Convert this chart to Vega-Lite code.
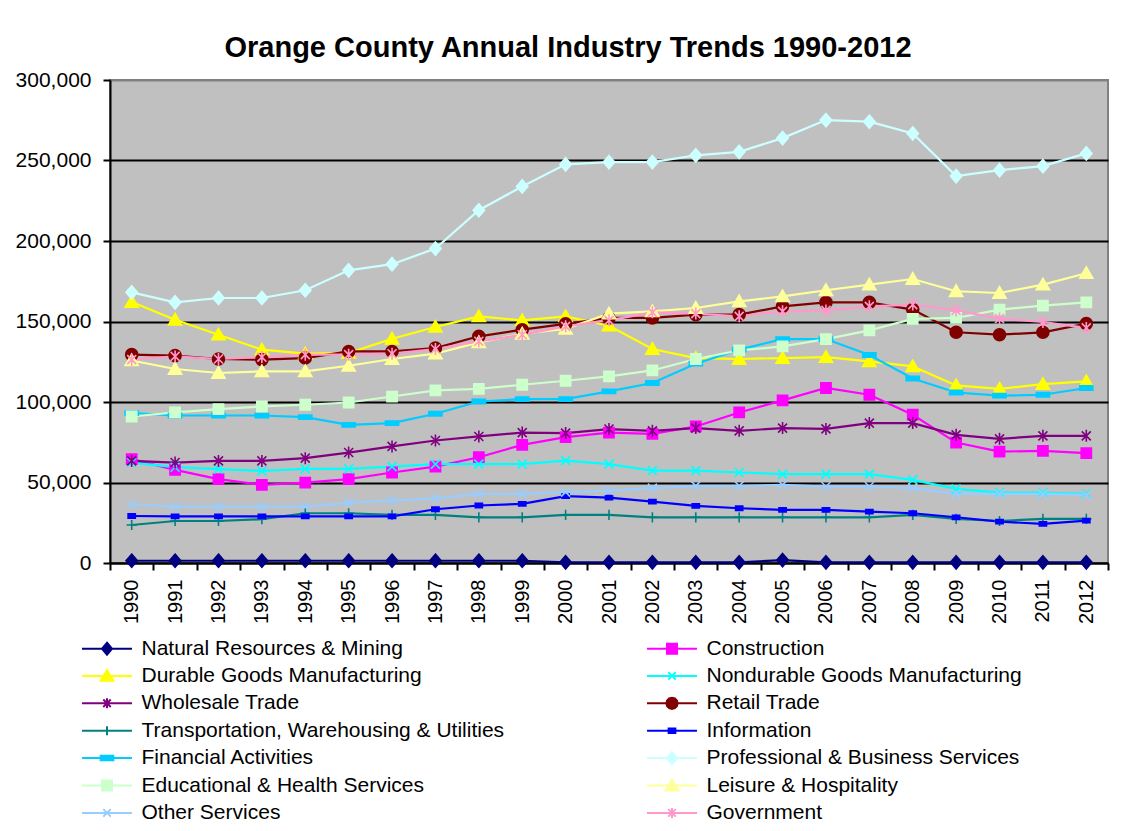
{
  "$schema": "https://vega.github.io/schema/vega-lite/v6.json",
  "width": 998,
  "height": 483,
  "autosize": {"type": "none"},
  "padding": {"left": 110, "top": 80, "right": 23, "bottom": 268},
  "background": "white",
  "title": {"text": "Orange County Annual Industry Trends 1990-2012", "font": "Liberation Sans", "fontSize": 29, "fontWeight": "bold", "color": "black", "anchor": "middle", "dx": -41, "offset": 6},
  "data": {"values": [
    {"year": "1990", "Natural Resources & Mining": 1400, "Construction": 64500, "Durable Goods Manufacturing": 162100, "Nondurable Goods Manufacturing": 62400, "Wholesale Trade": 63400, "Retail Trade": 129400, "Transportation, Warehousing & Utilities": 23600, "Information": 29200, "Financial Activities": 93100, "Professional & Business Services": 168100, "Educational & Health Services": 91000, "Leisure & Hospitality": 125800, "Other Services": 36500, "Government": 126300},
    {"year": "1991", "Natural Resources & Mining": 1400, "Construction": 57800, "Durable Goods Manufacturing": 151100, "Nondurable Goods Manufacturing": 59500, "Wholesale Trade": 62400, "Retail Trade": 128800, "Transportation, Warehousing & Utilities": 26100, "Information": 29000, "Financial Activities": 91600, "Professional & Business Services": 161900, "Educational & Health Services": 93500, "Leisure & Hospitality": 120500, "Other Services": 35000, "Government": 128300},
    {"year": "1992", "Natural Resources & Mining": 1400, "Construction": 52100, "Durable Goods Manufacturing": 141800, "Nondurable Goods Manufacturing": 58300, "Wholesale Trade": 63400, "Retail Trade": 126700, "Transportation, Warehousing & Utilities": 26100, "Information": 29000, "Financial Activities": 91600, "Professional & Business Services": 164600, "Educational & Health Services": 95600, "Leisure & Hospitality": 118000, "Other Services": 35000, "Government": 126700},
    {"year": "1993", "Natural Resources & Mining": 1400, "Construction": 48500, "Durable Goods Manufacturing": 132500, "Nondurable Goods Manufacturing": 57200, "Wholesale Trade": 63400, "Retail Trade": 126300, "Transportation, Warehousing & Utilities": 27200, "Information": 29000, "Financial Activities": 91600, "Professional & Business Services": 164600, "Educational & Health Services": 97200, "Leisure & Hospitality": 119000, "Other Services": 35000, "Government": 127900},
    {"year": "1994", "Natural Resources & Mining": 1400, "Construction": 49900, "Durable Goods Manufacturing": 130000, "Nondurable Goods Manufacturing": 58500, "Wholesale Trade": 65100, "Retail Trade": 127300, "Transportation, Warehousing & Utilities": 30900, "Information": 29000, "Financial Activities": 90600, "Professional & Business Services": 169400, "Educational & Health Services": 98300, "Leisure & Hospitality": 119000, "Other Services": 35000, "Government": 129400},
    {"year": "1995", "Natural Resources & Mining": 1400, "Construction": 52100, "Durable Goods Manufacturing": 130400, "Nondurable Goods Manufacturing": 58500, "Wholesale Trade": 68600, "Retail Trade": 131400, "Transportation, Warehousing & Utilities": 30900, "Information": 29000, "Financial Activities": 85800, "Professional & Business Services": 181800, "Educational & Health Services": 99700, "Leisure & Hospitality": 122500, "Other Services": 37500, "Government": 129400},
    {"year": "1996", "Natural Resources & Mining": 1400, "Construction": 56200, "Durable Goods Manufacturing": 139300, "Nondurable Goods Manufacturing": 59900, "Wholesale Trade": 72400, "Retail Trade": 131400, "Transportation, Warehousing & Utilities": 29900, "Information": 29000, "Financial Activities": 86900, "Professional & Business Services": 185600, "Educational & Health Services": 103400, "Leisure & Hospitality": 126700, "Other Services": 38800, "Government": 130000},
    {"year": "1997", "Natural Resources & Mining": 1400, "Construction": 59900, "Durable Goods Manufacturing": 146600, "Nondurable Goods Manufacturing": 61400, "Wholesale Trade": 76100, "Retail Trade": 133500, "Transportation, Warehousing & Utilities": 29900, "Information": 33400, "Financial Activities": 92700, "Professional & Business Services": 195300, "Educational & Health Services": 107200, "Leisure & Hospitality": 130000, "Other Services": 40200, "Government": 132900},
    {"year": "1998", "Natural Resources & Mining": 1400, "Construction": 65700, "Durable Goods Manufacturing": 153200, "Nondurable Goods Manufacturing": 61400, "Wholesale Trade": 78600, "Retail Trade": 140800, "Transportation, Warehousing & Utilities": 28400, "Information": 35700, "Financial Activities": 100300, "Professional & Business Services": 219100, "Educational & Health Services": 108200, "Leisure & Hospitality": 137000, "Other Services": 42900, "Government": 137700},
    {"year": "1999", "Natural Resources & Mining": 1400, "Construction": 73400, "Durable Goods Manufacturing": 150700, "Nondurable Goods Manufacturing": 61400, "Wholesale Trade": 81000, "Retail Trade": 144900, "Transportation, Warehousing & Utilities": 28400, "Information": 36700, "Financial Activities": 101800, "Professional & Business Services": 233900, "Educational & Health Services": 110700, "Leisure & Hospitality": 142400, "Other Services": 42900, "Government": 141800},
    {"year": "2000", "Natural Resources & Mining": 400, "Construction": 78200, "Durable Goods Manufacturing": 153200, "Nondurable Goods Manufacturing": 63600, "Wholesale Trade": 80700, "Retail Trade": 148500, "Transportation, Warehousing & Utilities": 29900, "Information": 41500, "Financial Activities": 101800, "Professional & Business Services": 247600, "Educational & Health Services": 113200, "Leisure & Hospitality": 145400, "Other Services": 44000, "Government": 147000},
    {"year": "2001", "Natural Resources & Mining": 400, "Construction": 81000, "Durable Goods Manufacturing": 147400, "Nondurable Goods Manufacturing": 61400, "Wholesale Trade": 83200, "Retail Trade": 152200, "Transportation, Warehousing & Utilities": 29900, "Information": 40600, "Financial Activities": 106600, "Professional & Business Services": 249000, "Educational & Health Services": 115900, "Leisure & Hospitality": 154900, "Other Services": 45000, "Government": 150700},
    {"year": "2002", "Natural Resources & Mining": 400, "Construction": 80200, "Durable Goods Manufacturing": 132900, "Nondurable Goods Manufacturing": 57400, "Wholesale Trade": 82100, "Retail Trade": 152200, "Transportation, Warehousing & Utilities": 28400, "Information": 38100, "Financial Activities": 111800, "Professional & Business Services": 249000, "Educational & Health Services": 119600, "Leisure & Hospitality": 156300, "Other Services": 46500, "Government": 155700},
    {"year": "2003", "Natural Resources & Mining": 400, "Construction": 84800, "Durable Goods Manufacturing": 127300, "Nondurable Goods Manufacturing": 57400, "Wholesale Trade": 83800, "Retail Trade": 154300, "Transportation, Warehousing & Utilities": 28400, "Information": 35500, "Financial Activities": 123800, "Professional & Business Services": 253200, "Educational & Health Services": 126700, "Leisure & Hospitality": 158400, "Other Services": 47900, "Government": 154900},
    {"year": "2004", "Natural Resources & Mining": 400, "Construction": 93500, "Durable Goods Manufacturing": 126700, "Nondurable Goods Manufacturing": 56200, "Wholesale Trade": 82100, "Retail Trade": 154300, "Transportation, Warehousing & Utilities": 28400, "Information": 34000, "Financial Activities": 132500, "Professional & Business Services": 255400, "Educational & Health Services": 132100, "Leisure & Hospitality": 162500, "Other Services": 47900, "Government": 153200},
    {"year": "2005", "Natural Resources & Mining": 1800, "Construction": 101000, "Durable Goods Manufacturing": 127300, "Nondurable Goods Manufacturing": 55200, "Wholesale Trade": 83800, "Retail Trade": 159400, "Transportation, Warehousing & Utilities": 28400, "Information": 33000, "Financial Activities": 139100, "Professional & Business Services": 263900, "Educational & Health Services": 134500, "Leisure & Hospitality": 165600, "Other Services": 48500, "Government": 156300},
    {"year": "2006", "Natural Resources & Mining": 400, "Construction": 108700, "Durable Goods Manufacturing": 127900, "Nondurable Goods Manufacturing": 55200, "Wholesale Trade": 83300, "Retail Trade": 161900, "Transportation, Warehousing & Utilities": 28400, "Information": 33000, "Financial Activities": 139100, "Professional & Business Services": 275100, "Educational & Health Services": 139100, "Leisure & Hospitality": 169400, "Other Services": 47500, "Government": 156900},
    {"year": "2007", "Natural Resources & Mining": 400, "Construction": 104500, "Durable Goods Manufacturing": 125200, "Nondurable Goods Manufacturing": 55200, "Wholesale Trade": 86900, "Retail Trade": 161900, "Transportation, Warehousing & Utilities": 28400, "Information": 31900, "Financial Activities": 129200, "Professional & Business Services": 274100, "Educational & Health Services": 144500, "Leisure & Hospitality": 172900, "Other Services": 47500, "Government": 159400},
    {"year": "2008", "Natural Resources & Mining": 400, "Construction": 92100, "Durable Goods Manufacturing": 122100, "Nondurable Goods Manufacturing": 51600, "Wholesale Trade": 86900, "Retail Trade": 157400, "Transportation, Warehousing & Utilities": 29900, "Information": 30900, "Financial Activities": 114600, "Professional & Business Services": 266800, "Educational & Health Services": 151600, "Leisure & Hospitality": 176400, "Other Services": 46500, "Government": 160500},
    {"year": "2009", "Natural Resources & Mining": 400, "Construction": 74800, "Durable Goods Manufacturing": 110300, "Nondurable Goods Manufacturing": 46000, "Wholesale Trade": 79600, "Retail Trade": 143300, "Transportation, Warehousing & Utilities": 27400, "Information": 28400, "Financial Activities": 105900, "Professional & Business Services": 240300, "Educational & Health Services": 152200, "Leisure & Hospitality": 168800, "Other Services": 42900, "Government": 156900},
    {"year": "2010", "Natural Resources & Mining": 400, "Construction": 69200, "Durable Goods Manufacturing": 108200, "Nondurable Goods Manufacturing": 43700, "Wholesale Trade": 77100, "Retail Trade": 141800, "Transportation, Warehousing & Utilities": 26100, "Information": 25700, "Financial Activities": 103900, "Professional & Business Services": 244000, "Educational & Health Services": 157400, "Leisure & Hospitality": 167700, "Other Services": 42900, "Government": 151800},
    {"year": "2011", "Natural Resources & Mining": 400, "Construction": 69700, "Durable Goods Manufacturing": 111100, "Nondurable Goods Manufacturing": 43700, "Wholesale Trade": 79000, "Retail Trade": 143300, "Transportation, Warehousing & Utilities": 27400, "Information": 24300, "Financial Activities": 104500, "Professional & Business Services": 246500, "Educational & Health Services": 159900, "Leisure & Hospitality": 172900, "Other Services": 42900, "Government": 149700},
    {"year": "2012", "Natural Resources & Mining": 400, "Construction": 68200, "Durable Goods Manufacturing": 112800, "Nondurable Goods Manufacturing": 42900, "Wholesale Trade": 79000, "Retail Trade": 148700, "Transportation, Warehousing & Utilities": 27400, "Information": 26300, "Financial Activities": 108700, "Professional & Business Services": 254400, "Educational & Health Services": 161900, "Leisure & Hospitality": 180000, "Other Services": 42300, "Government": 146000}
  ]},
  "transform": [
    {"fold": ["Natural Resources & Mining", "Construction", "Durable Goods Manufacturing", "Nondurable Goods Manufacturing", "Wholesale Trade", "Retail Trade", "Transportation, Warehousing & Utilities", "Information", "Financial Activities", "Professional & Business Services", "Educational & Health Services", "Leisure & Hospitality", "Other Services", "Government"], "as": ["industry", "jobs"]}
  ],
  "encoding": {
    "x": {"field": "year", "type": "ordinal", "scale": {"type": "band", "paddingInner": 0, "paddingOuter": 0},
      "axis": {"title": null, "labelAngle": -90, "labelFontSize": 20, "labelFont": "Liberation Sans", "labelColor": "black", "labelPadding": 9, "tickBand": "extent", "ticks": true, "tickSize": 7, "tickColor": "black", "tickWidth": 2, "domainColor": "black", "domainWidth": 2, "grid": false}},
    "y": {"field": "jobs", "type": "quantitative", "scale": {"domain": [0, 300000], "nice": false},
      "axis": {"title": null, "values": [0, 50000, 100000, 150000, 200000, 250000, 300000], "format": ",d", "labelFontSize": 21, "labelFont": "Liberation Sans", "labelColor": "black", "labelPadding": 12, "tickSize": 7, "tickColor": "black", "tickWidth": 2, "domainColor": "black", "domainWidth": 2, "grid": true, "gridColor": {"condition": {"test": "datum.value === 300000", "value": "#808080"}, "value": "black"}, "gridWidth": 2, "gridOpacity": 1}}
  },
  "layer": [
    {
      "mark": {"type": "line", "strokeWidth": 2.2},
      "encoding": {
        "color": {"field": "industry", "type": "nominal", "legend": null,
          "scale": {"domain": ["Natural Resources & Mining", "Construction", "Durable Goods Manufacturing", "Nondurable Goods Manufacturing", "Wholesale Trade", "Retail Trade", "Transportation, Warehousing & Utilities", "Information", "Financial Activities", "Professional & Business Services", "Educational & Health Services", "Leisure & Hospitality", "Other Services", "Government"],
            "range": ["#000080", "#FF00FF", "#FFFF00", "#00FFFF", "#800080", "#800000", "#008080", "#0000FF", "#00CCFF", "#CCFFFF", "#CCFFCC", "#FFFF99", "#99CCFF", "#FF99CC"]}}
      }
    },
    {
      "mark": {"type": "point", "filled": true, "opacity": 1, "size": 144, "strokeWidth": 1.6},
      "encoding": {
        "fill": {"field": "industry", "type": "nominal", "legend": null,
          "scale": {"domain": ["Natural Resources & Mining", "Construction", "Durable Goods Manufacturing", "Nondurable Goods Manufacturing", "Wholesale Trade", "Retail Trade", "Transportation, Warehousing & Utilities", "Information", "Financial Activities", "Professional & Business Services", "Educational & Health Services", "Leisure & Hospitality", "Other Services", "Government"],
            "range": ["#000080", "#FF00FF", "#FFFF00", "#00FFFF", "#800080", "#800000", "#008080", "#0000FF", "#00CCFF", "#CCFFFF", "#CCFFCC", "#FFFF99", "#99CCFF", "#FF99CC"]}},
        "stroke": {"field": "industry", "type": "nominal", "legend": null,
          "scale": {"domain": ["Natural Resources & Mining", "Construction", "Durable Goods Manufacturing", "Nondurable Goods Manufacturing", "Wholesale Trade", "Retail Trade", "Transportation, Warehousing & Utilities", "Information", "Financial Activities", "Professional & Business Services", "Educational & Health Services", "Leisure & Hospitality", "Other Services", "Government"],
            "range": ["#000080", "#FF00FF", "#FFFF00", "#00FFFF", "#800080", "#800000", "#008080", "#0000FF", "#00CCFF", "#CCFFFF", "#CCFFCC", "#FFFF99", "#99CCFF", "#FF99CC"]}},
        "shape": {"field": "industry", "type": "nominal", "legend": null,
          "scale": {"domain": ["Natural Resources & Mining", "Construction", "Durable Goods Manufacturing", "Nondurable Goods Manufacturing", "Wholesale Trade", "Retail Trade", "Transportation, Warehousing & Utilities", "Information", "Financial Activities", "Professional & Business Services", "Educational & Health Services", "Leisure & Hospitality", "Other Services", "Government"],
            "range": [
              "M0,-1.1L0.95,0L0,1.1L-0.95,0Z",
              "M-0.85,-0.85H0.85V0.85H-0.85Z",
              "M0,-1.05L1.1,0.85H-1.1Z",
              "M-0.75,-0.75L0.75,0.75M-0.75,0.75L0.75,-0.75",
              "M-0.75,-0.75L0.75,0.75M-0.75,0.75L0.75,-0.75M0,-1L0,1",
              "circle",
              "M-0.85,0H0.85M0,-0.85V0.85",
              "M-0.6,-0.35H0.6V0.35H-0.6Z",
              "M-1.1,-0.35H1.1V0.35H-1.1Z",
              "M0,-1.1L0.95,0L0,1.1L-0.95,0Z",
              "M-0.85,-0.85H0.85V0.85H-0.85Z",
              "M0,-1.05L1.1,0.85H-1.1Z",
              "M-0.75,-0.75L0.75,0.75M-0.75,0.75L0.75,-0.75",
              "M-0.75,-0.75L0.75,0.75M-0.75,0.75L0.75,-0.75M0,-1L0,1"
            ]}}
      }
    },
    {
      "mark": {"type": "point", "filled": true, "opacity": 0, "size": 144},
      "encoding": {
        "fill": {"field": "industry", "type": "nominal",
          "legend": {"title": null, "orient": "none", "direction": "horizontal", "legendX": -38.5, "legendY": 558, "columns": 2, "columnPadding": 132, "rowPadding": 5.4, "labelFontSize": 21, "labelFont": "Liberation Sans", "labelColor": "black", "labelLimit": 600, "symbolSize": 225, "symbolStrokeWidth": 2, "symbolOffset": 25, "labelOffset": 24, "padding": 0, "symbolOpacity": 1},
          "scale": {"domain": ["Natural Resources & Mining", "Construction", "Durable Goods Manufacturing", "Nondurable Goods Manufacturing", "Wholesale Trade", "Retail Trade", "Transportation, Warehousing & Utilities", "Information", "Financial Activities", "Professional & Business Services", "Educational & Health Services", "Leisure & Hospitality", "Other Services", "Government"],
            "range": ["#000080", "#FF00FF", "#FFFF00", "#00FFFF", "#800080", "#800000", "#008080", "#0000FF", "#00CCFF", "#CCFFFF", "#CCFFCC", "#FFFF99", "#99CCFF", "#FF99CC"]}},
        "stroke": {"field": "industry", "type": "nominal",
          "legend": {"title": null, "orient": "none", "direction": "horizontal", "legendX": -38.5, "legendY": 558, "columns": 2, "columnPadding": 132, "rowPadding": 5.4, "labelFontSize": 21, "labelFont": "Liberation Sans", "labelColor": "black", "labelLimit": 600, "symbolSize": 225, "symbolStrokeWidth": 2, "symbolOffset": 25, "labelOffset": 24, "padding": 0, "symbolOpacity": 1},
          "scale": {"domain": ["Natural Resources & Mining", "Construction", "Durable Goods Manufacturing", "Nondurable Goods Manufacturing", "Wholesale Trade", "Retail Trade", "Transportation, Warehousing & Utilities", "Information", "Financial Activities", "Professional & Business Services", "Educational & Health Services", "Leisure & Hospitality", "Other Services", "Government"],
            "range": ["#000080", "#FF00FF", "#FFFF00", "#00FFFF", "#800080", "#800000", "#008080", "#0000FF", "#00CCFF", "#CCFFFF", "#CCFFCC", "#FFFF99", "#99CCFF", "#FF99CC"]}},
        "shape": {"field": "industry", "type": "nominal",
          "legend": {"title": null, "orient": "none", "direction": "horizontal", "legendX": -38.5, "legendY": 558, "columns": 2, "columnPadding": 132, "rowPadding": 5.4, "labelFontSize": 21, "labelFont": "Liberation Sans", "labelColor": "black", "labelLimit": 600, "symbolSize": 225, "symbolStrokeWidth": 2, "symbolOffset": 25, "labelOffset": 24, "padding": 0, "symbolOpacity": 1},
          "scale": {"domain": ["Natural Resources & Mining", "Construction", "Durable Goods Manufacturing", "Nondurable Goods Manufacturing", "Wholesale Trade", "Retail Trade", "Transportation, Warehousing & Utilities", "Information", "Financial Activities", "Professional & Business Services", "Educational & Health Services", "Leisure & Hospitality", "Other Services", "Government"],
            "range": [
              "M-3.33,0H3.33M0,-0.8L0.67,0L0,0.8L-0.67,0Z",
              "M-3.33,0H3.33M-0.67,-0.67H0.67V0.67H-0.67Z",
              "M-3.33,0H3.33M0,-0.75L0.85,0.65H-0.85Z",
              "M-3.33,0H3.33M-0.5,-0.5L0.5,0.5M-0.5,0.5L0.5,-0.5",
              "M-3.33,0H3.33M-0.5,-0.5L0.5,0.5M-0.5,0.5L0.5,-0.5M0,-0.67V0.67",
              "M-3.33,0H3.33M0.75,0L0.65,0.375L0.375,0.65L0,0.75L-0.375,0.65L-0.65,0.375L-0.75,0L-0.65,-0.375L-0.375,-0.65L0,-0.75L0.375,-0.65L0.65,-0.375Z",
              "M-3.33,0H3.33M0,-0.6V0.6",
              "M-3.33,0H3.33M-0.45,-0.3H0.45V0.3H-0.45Z",
              "M-3.33,0H3.33M-0.85,-0.3H0.85V0.3H-0.85Z",
              "M-3.33,0H3.33M0,-0.8L0.67,0L0,0.8L-0.67,0Z",
              "M-3.33,0H3.33M-0.67,-0.67H0.67V0.67H-0.67Z",
              "M-3.33,0H3.33M0,-0.75L0.85,0.65H-0.85Z",
              "M-3.33,0H3.33M-0.5,-0.5L0.5,0.5M-0.5,0.5L0.5,-0.5",
              "M-3.33,0H3.33M-0.5,-0.5L0.5,0.5M-0.5,0.5L0.5,-0.5M0,-0.67V0.67"
            ]}}
      }
    }
  ],
  "resolve": {"scale": {"fill": "independent", "stroke": "independent", "shape": "independent"}},
  "config": {
    "font": "Liberation Sans",
    "view": {"fill": "#C0C0C0", "stroke": "#808080", "strokeWidth": 2}
  }
}
